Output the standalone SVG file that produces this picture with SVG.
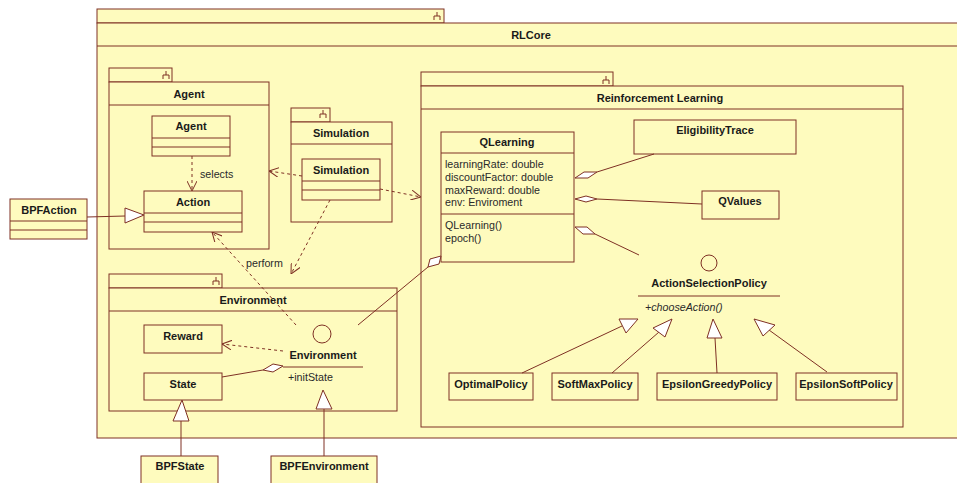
<svg xmlns="http://www.w3.org/2000/svg" width="957" height="483" viewBox="0 0 957 483">
<defs>
<style>
.b{fill:#FEFBBE;stroke:#7E3024;stroke-width:1}
.n{fill:none;stroke:#7E3024;stroke-width:1}
.d{fill:none;stroke:#7E3024;stroke-width:1;stroke-dasharray:3,3}
.w{fill:#FFFFFF;stroke:#7E3024;stroke-width:1}
.t{font-family:"Liberation Sans",Arial,sans-serif;font-size:11px;font-weight:bold;fill:#1a1a1a;text-anchor:middle}
.r{font-family:"Liberation Sans",Arial,sans-serif;font-size:10.7px;fill:#2a2a2a}
.i{font-family:"Liberation Sans",Arial,sans-serif;font-size:10.7px;font-style:italic;fill:#2a2a2a}
</style>
<marker id="open" viewBox="0 0 10 10" refX="10" refY="5" markerWidth="10" markerHeight="10" markerUnits="userSpaceOnUse" orient="auto">
<path d="M0,0 L10,5 L0,10" fill="none" stroke="#7E3024" stroke-width="1"/>
</marker>
</defs>
<rect width="957" height="483" fill="#FFFFFF"/>

<g id="RLCore">
<rect class="b" x="97" y="9" width="347" height="14"/>
<rect class="b" x="97" y="23" width="870" height="415"/>
<line class="n" x1="97" y1="46" x2="957" y2="46"/>
<path class="n" d="M437,12V16M434,20V16H440V20"/>
<text class="t" x="531" y="39">RLCore</text>
</g>

<g id="AgentPkg">
<rect class="b" x="109" y="68" width="63" height="14"/>
<rect class="b" x="109" y="82" width="160" height="167"/>
<line class="n" x1="109" y1="105" x2="269" y2="105"/>
<path class="n" d="M166,71V75M163,79V75H169V79"/>
<text class="t" x="189" y="98">Agent</text>
</g>

<g id="Agent">
<rect class="b" x="152" y="116" width="78" height="40"/>
<line class="n" x1="152" y1="138" x2="230" y2="138"/>
<line class="n" x1="152" y1="147" x2="230" y2="147"/>
<text class="t" x="191" y="130">Agent</text>
</g>

<g id="Action">
<rect class="b" x="144" y="191" width="98" height="41"/>
<line class="n" x1="144" y1="213" x2="242" y2="213"/>
<line class="n" x1="144" y1="222" x2="242" y2="222"/>
<text class="t" x="193" y="206">Action</text>
</g>

<g id="BPFAction">
<rect class="b" x="10" y="199" width="77" height="40"/>
<line class="n" x1="10" y1="221" x2="87" y2="221"/>
<line class="n" x1="10" y1="230" x2="87" y2="230"/>
<text class="t" x="49" y="214">BPFAction</text>
</g>

<g id="SimulationPkg">
<rect class="b" x="291" y="108" width="39" height="14"/>
<rect class="b" x="291" y="122" width="101" height="100"/>
<line class="n" x1="291" y1="144" x2="392" y2="144"/>
<path class="n" d="M323,110V114M320,118V114H326V118"/>
<text class="t" x="341" y="137">Simulation</text>
</g>

<g id="Simulation">
<rect class="b" x="302" y="159" width="78" height="41"/>
<line class="n" x1="302" y1="181" x2="380" y2="181"/>
<line class="n" x1="302" y1="190" x2="380" y2="190"/>
<text class="t" x="341" y="174">Simulation</text>
</g>

<g id="EnvironmentPkg">
<rect class="b" x="109" y="274" width="113" height="14"/>
<rect class="b" x="109" y="288" width="288" height="123"/>
<line class="n" x1="109" y1="311" x2="397" y2="311"/>
<path class="n" d="M216,277V281M213,285V281H219V285"/>
<text class="t" x="253" y="304">Environment</text>
</g>

<g id="Reward">
<rect class="b" x="144" y="325" width="78" height="28"/>
<text class="t" x="183" y="340">Reward</text>
</g>

<g id="State">
<rect class="b" x="144" y="373" width="78" height="27"/>
<text class="t" x="183" y="388">State</text>
</g>

<g id="EnvironmentIface">
<circle class="b" cx="322" cy="334" r="9"/>
<text class="t" x="323" y="359">Environment</text>
<line class="n" x1="283" y1="367" x2="363" y2="367"/>
<text class="r" x="288" y="381">+initState</text>
</g>

<g id="BPFState">
<rect class="b" x="141" y="456" width="77" height="40"/>
<text class="t" x="180" y="470">BPFState</text>
</g>

<g id="BPFEnvironment">
<rect class="b" x="271" y="456" width="106" height="40"/>
<text class="t" x="324" y="470">BPFEnvironment</text>
</g>

<g id="RLPkg">
<rect class="b" x="421" y="72" width="192" height="14"/>
<rect class="b" x="421" y="86" width="482" height="341"/>
<line class="n" x1="421" y1="109" x2="903" y2="109"/>
<path class="n" d="M606,76V80M603,84V80H609V84"/>
<text class="t" x="660" y="102">Reinforcement Learning</text>
</g>

<g id="QLearning">
<rect class="b" x="441" y="132" width="133" height="130"/>
<line class="n" x1="441" y1="153" x2="574" y2="153"/>
<line class="n" x1="441" y1="214" x2="574" y2="214"/>
<text class="t" x="507" y="146">QLearning</text>
<text class="r" x="445" y="168">learningRate: double</text>
<text class="r" x="445" y="181">discountFactor: double</text>
<text class="r" x="445" y="194">maxReward: double</text>
<text class="r" x="445" y="206">env: Enviroment</text>
<text class="r" x="445" y="229">QLearning()</text>
<text class="r" x="445" y="242">epoch()</text>
</g>

<g id="EligibilityTrace">
<rect class="b" x="634" y="120" width="162" height="34"/>
<text class="t" x="715" y="134">EligibilityTrace</text>
</g>

<g id="QValues">
<rect class="b" x="702" y="191" width="77" height="28"/>
<text class="t" x="740" y="205">QValues</text>
</g>

<g id="ActionSelectionPolicy">
<circle class="b" cx="709" cy="263" r="8"/>
<text class="t" x="709" y="287">ActionSelectionPolicy</text>
<line class="n" x1="638" y1="296" x2="780" y2="296"/>
<text class="i" x="645" y="311">+chooseAction()</text>
</g>

<g id="OptimalPolicy">
<rect class="b" x="449" y="373" width="84" height="27"/>
<text class="t" x="491" y="388">OptimalPolicy</text>
</g>

<g id="SoftMaxPolicy">
<rect class="b" x="552" y="373" width="86" height="27"/>
<text class="t" x="595" y="388">SoftMaxPolicy</text>
</g>

<g id="EpsilonGreedyPolicy">
<rect class="b" x="657" y="373" width="120" height="27"/>
<text class="t" x="717" y="388">EpsilonGreedyPolicy</text>
</g>

<g id="EpsilonSoftPolicy">
<rect class="b" x="796" y="373" width="101" height="27"/>
<text class="t" x="846" y="388">EpsilonSoftPolicy</text>
</g>

<g id="connectors">
<!-- selects -->
<line class="d" x1="192" y1="156" x2="192" y2="191" marker-end="url(#open)"/>
<text class="r" x="200" y="178">selects</text>
<!-- BPFAction generalization -->
<polyline class="n" points="87,217 125,216"/>
<polygon class="w" points="125,208 144,215 125,223"/>
<!-- Simulation -> Agent pkg -->
<line class="d" x1="302" y1="176" x2="269" y2="171" marker-end="url(#open)"/>
<!-- Simulation -> RL pkg -->
<line class="d" x1="380" y1="189" x2="421" y2="197" marker-end="url(#open)"/>
<!-- Simulation -> Environment pkg -->
<line class="d" x1="330" y1="200" x2="291" y2="274" marker-end="url(#open)"/>
<!-- perform -->
<line class="d" x1="296" y1="325" x2="212" y2="232" marker-end="url(#open)"/>
<text class="r" x="246" y="267">perform</text>
<!-- Environment -> Reward -->
<line class="d" x1="283" y1="351" x2="222" y2="344" marker-end="url(#open)"/>
<!-- State aggregation -->
<line class="n" x1="222" y1="377" x2="263" y2="370"/>
<polygon class="w" points="283,366 273,364 263,370 273,372"/>
<!-- BPFState generalization -->
<line class="n" x1="181" y1="421" x2="181" y2="456"/>
<polygon class="w" points="182,400 189,421 173,421"/>
<!-- BPFEnvironment generalization -->
<line class="n" x1="324" y1="409" x2="324" y2="456"/>
<polygon class="w" points="323,390 332,409 316,409"/>
<!-- Environment -> QLearning aggregation -->
<line class="n" x1="358" y1="325" x2="428" y2="267"/>
<polygon class="w" points="441,256 430,259 428,267 439,264"/>
<!-- EligibilityTrace -->
<line class="n" x1="597" y1="172" x2="654" y2="154"/>
<polygon class="w" points="575,178 584,172 597,172 588,178"/>
<!-- QValues -->
<line class="n" x1="597" y1="199" x2="702" y2="204"/>
<polygon class="w" points="575,199 586,196 597,199 586,202"/>
<!-- ActionSelectionPolicy -->
<line class="n" x1="595" y1="234" x2="639" y2="255"/>
<polygon class="w" points="575,227 587,227 595,234 583,234"/>
<!-- Policies generalization -->
<line class="n" x1="522" y1="373" x2="622" y2="326"/>
<polygon class="w" points="638,319 619,319 626,333"/>
<line class="n" x1="612" y1="373" x2="659" y2="332"/>
<polygon class="w" points="672,319 653,328 665,337"/>
<line class="n" x1="717" y1="373" x2="715" y2="338"/>
<polygon class="w" points="713,319 722,338 707,338"/>
<line class="n" x1="827" y1="372" x2="769" y2="330"/>
<polygon class="w" points="754,319 775,325 763,336"/>
</g>
</svg>
